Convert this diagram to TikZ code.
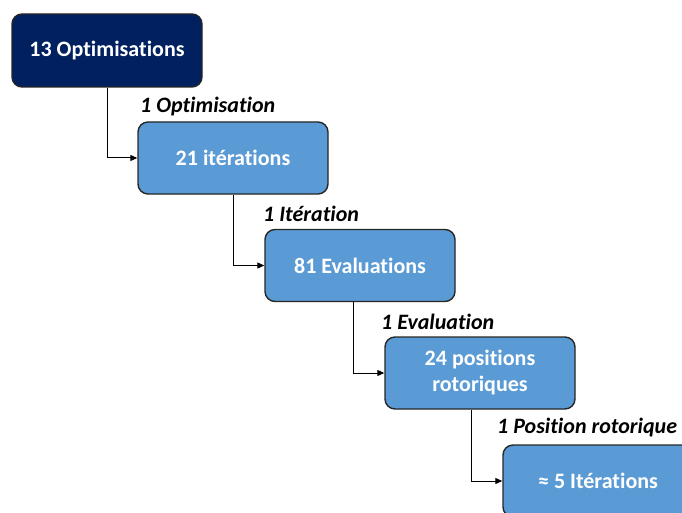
\documentclass[tikz,border=0pt]{standalone}
\usepackage{fontspec}
\setmainfont{Carlito}[Ligatures={NoCommon,NoRare,NoDiscretionary}]
\usetikzlibrary{arrows.meta}
\definecolor{navy}{HTML}{002060}
\definecolor{lblue}{HTML}{5B9BD5}
\begin{document}
\begin{tikzpicture}[x=1pt,y=-1pt,
  box/.style={draw=black!85, line width=1.4pt, rounded corners=10pt, fill=lblue,
    minimum width=190pt, minimum height=72pt, text=white, align=center,
    font=\fontsize{22}{26}\selectfont\bfseries, inner sep=2pt},
  lab/.style={anchor=west, font=\fontsize{22}{26}\selectfont\bfseries\itshape, text=black, inner sep=0pt},
  conn/.style={draw=black, line width=1pt, -{Triangle[length=7pt,width=6pt]}}]
\useasboundingbox (0,0) rectangle (682,513);
\clip (0,0) rectangle (682,513);
\node[box, fill=navy, minimum height=73pt] (b1) at (107,50.5) {13 Optimisations};
\node[box] (b2) at (233,158) {21 itérations};
\node[box] (b3) at (360,265.5) {81 Evaluations};
\node[box] (b4) at (480,373) {24 positions\\rotoriques};
\node[box] (b5) at (598,481) {≈ 5 Itérations};
\node[lab] (l1) at (140,107) {1 Optimisation};
\node[lab] (l2) at (263,214) {1 Itération};
\node[lab] (l3) at (381,322) {1 Evaluation};
\node[lab] (l4) at (497,428) {1 Position rotorique};
\draw[conn] (b1.south) |- (b2.west);
\draw[conn] (b2.south) |- (b3.west);
\draw[conn] ([xshift=-7pt]b3.south) |- (b4.west);
\draw[conn] ([xshift=-9pt]b4.south) |- (b5.west);
\end{tikzpicture}
\end{document}
